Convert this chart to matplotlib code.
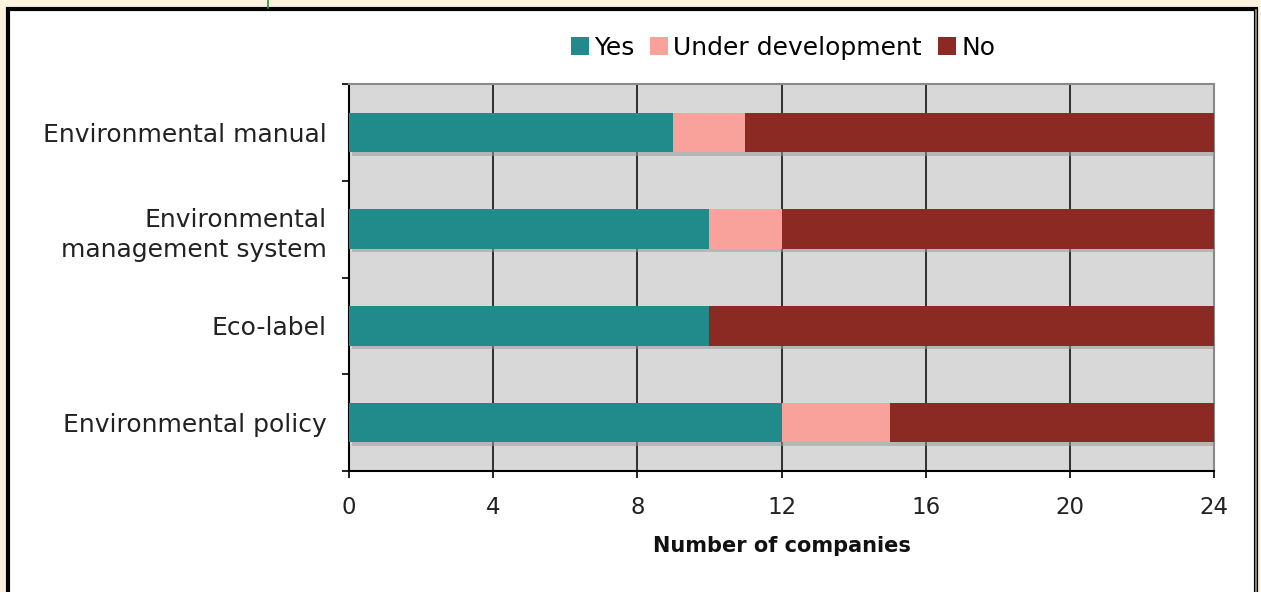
import matplotlib
matplotlib.use("Agg")
import matplotlib.pyplot as plt
import matplotlib.patheffects as pe
from matplotlib.patches import Rectangle, Patch
import numpy as np

categories = ["Environmental policy", "Eco-label",
              "Environmental\nmanagement system", "Environmental manual"]
yes = [12, 10, 10, 9]
under_dev = [3, 0, 2, 2]
no = [9, 14, 12, 13]
series_names = ["Yes", "Under development", "No"]
colors = ["#218B8C", "#F9A29B", "#8B2A22"]
x_ticks = [0, 4, 8, 12, 16, 20, 24]

plt.rcParams["font.family"] = ["DejaVu Sans"]

fig = plt.figure(figsize=(12.61, 5.92), dpi=100)
fig.patch.set_facecolor("#FBF1DE")

# white panel with a heavy black frame, kept behind the axes
panel = Rectangle((8 / 1261, -0.05), 1248 / 1261, 1 - 9 / 592 + 0.05,
                  transform=fig.transFigure, facecolor="white",
                  edgecolor="black", linewidth=3, zorder=-5)
fig.patches.append(panel)
fig.add_artist(plt.Line2D([1256 / 1261, 1256 / 1261], [0, 1 - 10 / 592],
                          transform=fig.transFigure, color="#9a9a9a", lw=1.2,
                          zorder=-4))
fig.add_artist(plt.Line2D([267.5 / 1261, 267.5 / 1261], [1 - 8 / 592, 1],
                          transform=fig.transFigure, color="#2e8b3a", lw=1.2,
                          zorder=-4))

ax = fig.add_axes([349 / 1261, 1 - 471 / 592, 865 / 1261, 387 / 592])
ax.set_facecolor("#D8D8D8")

y = np.arange(len(categories))
shadow = [pe.SimplePatchShadow(offset=(2.5, -2.5), shadow_rgbFace="#9a9a9a", alpha=0.55),
          pe.Normal()]
left = np.zeros(len(categories))
for vals, name, col in zip([yes, under_dev, no], series_names, colors):
    bars = ax.barh(y, vals, left=left, height=0.41, color=col, zorder=3)
    for b in bars:
        b.set_path_effects(shadow)
    left += np.array(vals)

ax.set_xlim(0, 24)
ax.set_ylim(-0.5, len(categories) - 0.5)
ax.set_xticks(x_ticks)
ax.set_xticklabels([str(t) for t in x_ticks], fontsize=16.5, color="#222222")
ax.xaxis.grid(True, color="black", linewidth=1.1, zorder=1)
ax.set_axisbelow(True)

ax.set_yticks(y)
ax.set_yticklabels(categories, fontsize=18, color="#222222",
                   multialignment="right", linespacing=1.35)
ax.tick_params(axis="y", length=0, pad=16)
ax.set_yticks(np.arange(-0.5, len(categories)), minor=True)
ax.tick_params(axis="y", which="minor", length=5, width=1.2, direction="out")
ax.tick_params(axis="x", length=5, width=1.2, direction="out", pad=13)

for side in ["top", "right"]:
    ax.spines[side].set_color("#8a8a8a")
    ax.spines[side].set_linewidth(1.5)
for side in ["left", "bottom"]:
    ax.spines[side].set_color("black")
    ax.spines[side].set_linewidth(1.5)

ax.set_xlabel("Number of companies", fontsize=15, fontweight="bold",
              labelpad=12, color="#111111")

handles = [Patch(facecolor=c, edgecolor="none") for c in colors]
fig.legend(handles, series_names, loc="center",
           bbox_to_anchor=(783 / 1261, 1 - 48 / 592), ncol=3,
           frameon=False, fontsize=18, handlelength=0.72, handleheight=0.72,
           handletextpad=0.2, columnspacing=0.65)

fig.savefig("out.png", dpi=100, facecolor=fig.get_facecolor())
